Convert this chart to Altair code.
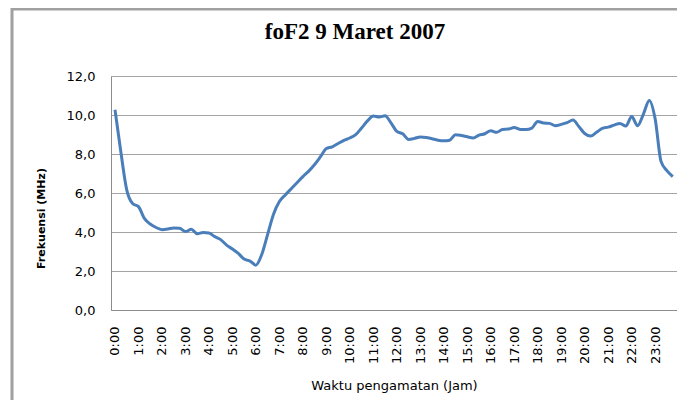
import altair as alt
import pandas as pd

title_text = "foF2 9 Maret 2007"
x_title = "Waktu pengamatan (Jam)"
y_title = "Frekuensi (MHz)"

# observations every 15 minutes, 0:00 .. 23:45
time_minutes = list(range(0, 1440, 15))
fof2_mhz = [
    10.27, 8.10, 6.16, 5.46, 5.30, 4.70, 4.41, 4.23,
    4.12, 4.15, 4.21, 4.19, 4.02, 4.14, 3.91, 3.97,
    3.95, 3.76, 3.61, 3.33, 3.13, 2.90, 2.61, 2.51,
    2.30, 2.85, 3.88, 4.91, 5.56, 5.90, 6.21, 6.53,
    6.84, 7.12, 7.46, 7.86, 8.28, 8.37, 8.54, 8.70,
    8.82, 8.99, 9.33, 9.70, 9.95, 9.90, 9.96, 9.60,
    9.16, 9.04, 8.75, 8.80, 8.87, 8.85, 8.78, 8.71,
    8.68, 8.71, 8.99, 8.95, 8.88, 8.82, 8.97, 9.04,
    9.19, 9.11, 9.26, 9.28, 9.36, 9.26, 9.26, 9.33,
    9.67, 9.59, 9.57, 9.45, 9.52, 9.61, 9.74, 9.41,
    9.05, 8.92, 9.11, 9.31, 9.38, 9.48, 9.57, 9.43,
    9.92, 9.45, 10.05, 10.75, 9.80, 7.62, 7.15, 6.84,
]
hour_ticks = list(range(0, 24))
y_ticks = [0, 2, 4, 6, 8, 10, 12]

df = pd.DataFrame({"jam": [m / 60 for m in time_minutes], "fof2": fof2_mhz})

AXIS_GREY = "#8c8c8c"
GRID_GREY = "#a3a3a3"
BORDER_GREY = "#a0a0a0"

line = alt.Chart(df).mark_line(
    color="#4a7ebb", strokeWidth=3, interpolate="monotone"
).encode(
    x=alt.X(
        "jam:Q",
        scale=alt.Scale(domain=[-0.17, 23.93], nice=False, zero=False),
        axis=alt.Axis(
            values=hour_ticks,
            labelExpr="datum.value + ':00'",
            labelAngle=270,
            ticks=False,
            grid=False,
            domain=True,
            domainColor=AXIS_GREY,
            labelPadding=16,
            labelFont="DejaVu Sans",
            labelFontSize=13,
            labelColor="#000000",
            labelFlush=False,
            labelOverlap=False,
            labelBound=False,
            title=x_title,
            titleFont="DejaVu Sans",
            titleFontSize=13,
            titleFontWeight="normal",
            titleColor="#000000",
            titleY=75,
            titleBaseline="middle",
        ),
    ),
    y=alt.Y(
        "fof2:Q",
        scale=alt.Scale(domain=[0, 12], nice=False, zero=True),
        axis=alt.Axis(
            values=y_ticks,
            labelExpr="replace(format(datum.value, '.1f'), '.', ',')",
            ticks=False,
            grid=True,
            gridColor=GRID_GREY,
            gridWidth=1,
            domain=True,
            domainColor=AXIS_GREY,
            labelPadding=16,
            labelFont="DejaVu Sans",
            labelFontSize=13,
            labelColor="#000000",
            title=y_title,
            titleFont="DejaVu Sans",
            titleFontSize=11,
            titleFontWeight="bold",
            titleColor="#000000",
            titleX=-70,
            titleY=142,
            titleBaseline="middle",
        ),
    ),
)

frame_df = pd.DataFrame({"f": [0]})
top_border = alt.Chart(frame_df).mark_rule(color=BORDER_GREY, strokeWidth=3).encode(
    x=alt.value(-100), x2=alt.value(570), y=alt.value(-67)
)
left_border = alt.Chart(frame_df).mark_rule(color=BORDER_GREY, strokeWidth=3).encode(
    x=alt.value(-99), y=alt.value(-68), y2=alt.value(324)
)

chart = alt.layer(line, top_border, left_border).properties(
    width=566,
    height=234,
    title=alt.Title(
        title_text,
        font="Liberation Serif",
        fontSize=23,
        fontWeight="bold",
        color="#000000",
        anchor="middle",
        frame="group",
        dx=-39,
        dy=55,
        offset=0,
        baseline="alphabetic",
    ),
    autosize=alt.AutoSizeParams(type="none"),
    padding={"left": 103, "top": 68, "right": 0, "bottom": 90},
).configure_view(strokeWidth=0).configure(background="white")

chart.save("out.html", embed_options={"renderer": "svg", "actions": False})
